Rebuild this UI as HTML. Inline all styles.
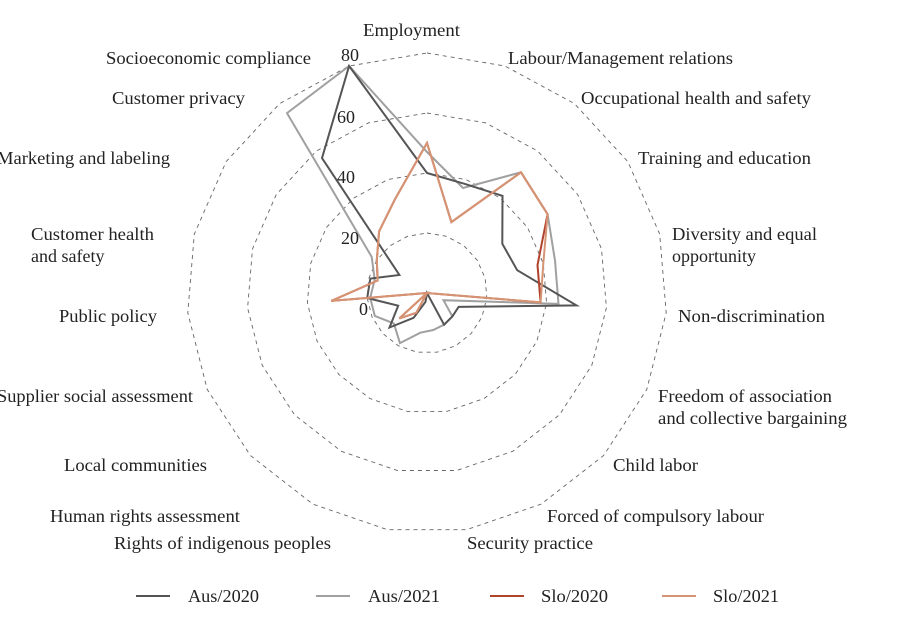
<!DOCTYPE html>
<html><head><meta charset="utf-8"><style>
html,body{margin:0;padding:0;background:#fff;}
svg{display:block;font-family:"Liberation Serif",serif;font-size:18px;fill:#222;}
</style></head><body>
<svg id="s" width="900" height="618" viewBox="0 0 900 618" xmlns="http://www.w3.org/2000/svg">
<g id="grid"></g>
<g id="series"></g>
<g>
<text x="363" y="36" textLength="97" lengthAdjust="spacingAndGlyphs">Employment</text>
<text x="508" y="64" textLength="225" lengthAdjust="spacingAndGlyphs">Labour/Management relations</text>
<text x="581" y="104" textLength="230" lengthAdjust="spacingAndGlyphs">Occupational health and safety</text>
<text x="638" y="164" textLength="173" lengthAdjust="spacingAndGlyphs">Training and education</text>
<text x="672" y="240" textLength="145" lengthAdjust="spacingAndGlyphs">Diversity and equal</text>
<text x="672" y="262">opportunity</text>
<text x="678" y="322" textLength="147" lengthAdjust="spacingAndGlyphs">Non-discrimination</text>
<text x="658" y="402" textLength="174" lengthAdjust="spacingAndGlyphs">Freedom of association</text>
<text x="658" y="424" textLength="189" lengthAdjust="spacingAndGlyphs">and collective bargaining</text>
<text x="613" y="471" textLength="85" lengthAdjust="spacingAndGlyphs">Child labor</text>
<text x="547" y="522" textLength="217" lengthAdjust="spacingAndGlyphs">Forced of compulsory labour</text>
<text x="467" y="549" textLength="126" lengthAdjust="spacingAndGlyphs">Security practice</text>
<text x="114" y="549" textLength="217" lengthAdjust="spacingAndGlyphs">Rights of indigenous peoples</text>
<text x="50" y="522" textLength="190" lengthAdjust="spacingAndGlyphs">Human rights assessment</text>
<text x="64" y="471" textLength="143" lengthAdjust="spacingAndGlyphs">Local communities</text>
<text x="-3" y="402" textLength="196" lengthAdjust="spacingAndGlyphs">Supplier social assessment</text>
<text x="59" y="322" textLength="98" lengthAdjust="spacingAndGlyphs">Public policy</text>
<text x="31" y="240" textLength="123" lengthAdjust="spacingAndGlyphs">Customer health</text>
<text x="31" y="262">and safety</text>
<text x="-3" y="164" textLength="173" lengthAdjust="spacingAndGlyphs">Marketing and labeling</text>
<text x="112" y="104" textLength="133" lengthAdjust="spacingAndGlyphs">Customer privacy</text>
<text x="106" y="64" textLength="205" lengthAdjust="spacingAndGlyphs">Socioeconomic compliance</text>
<text x="341" y="61">80</text>
<text x="337" y="123">60</text>
<text x="337" y="183">40</text>
<text x="341" y="244">20</text>
<text x="359" y="315">0</text>
</g>
<g>
<line x1="136" y1="596" x2="170" y2="596" stroke="#555" stroke-width="2"/>
<text x="188" y="602" textLength="71" lengthAdjust="spacingAndGlyphs">Aus/2020</text>
<line x1="316" y1="596" x2="350" y2="596" stroke="#a0a0a0" stroke-width="2"/>
<text x="368" y="602" textLength="72" lengthAdjust="spacingAndGlyphs">Aus/2021</text>
<line x1="490" y1="596" x2="524" y2="596" stroke="#b0432c" stroke-width="2"/>
<text x="541" y="602" textLength="67" lengthAdjust="spacingAndGlyphs">Slo/2020</text>
<line x1="662" y1="596" x2="696" y2="596" stroke="#d69474" stroke-width="2"/>
<text x="713" y="602" textLength="66" lengthAdjust="spacingAndGlyphs">Slo/2021</text>
</g>
</svg>
<script>
var cx=427,cy=293,n=19,NS="http://www.w3.org/2000/svg";
function pts(vals,k){return vals.map(function(v,i){var a=i*2*Math.PI/n,r=v*k;return (cx+r*Math.sin(a)).toFixed(1)+","+(cy-r*Math.cos(a)).toFixed(1);}).join(" ");}
var g=document.getElementById("grid");
[20,40,60,80].forEach(function(v){var p=document.createElementNS(NS,"polygon");p.setAttribute("points",pts(new Array(n).fill(v),3));p.setAttribute("fill","none");p.setAttribute("stroke","#666");p.setAttribute("stroke-width","0.9");p.setAttribute("stroke-dasharray","4,4");g.appendChild(p);});
var S=[
 ["#a0a0a0",[47,37,51,48,44,44,6,11.5,12,12.5,13.4,19,15,19,19,18,22,76,80]],
 ["#555555",[40,38.5,41,30,31,50,11.5,11.5,12,0,3,9.4,17,10.5,20,19.5,11,57,80]],
 ["#b0432c",[50,25,51,48,38,38,0,0,0,0,0,7.5,12.5,0,32,17,20,26,33]],
 ["#d69474",[50,25,51,48,40,38,0,0,0,0,0,7.5,12.5,0,32,17,20,26,33]]
];
var sg=document.getElementById("series");
S.forEach(function(s){var p=document.createElementNS(NS,"polygon");p.setAttribute("points",pts(s[1],3));p.setAttribute("fill","none");p.setAttribute("stroke",s[0]);p.setAttribute("stroke-width","2");p.setAttribute("stroke-linejoin","miter");sg.appendChild(p);});
</script>
</body></html>
